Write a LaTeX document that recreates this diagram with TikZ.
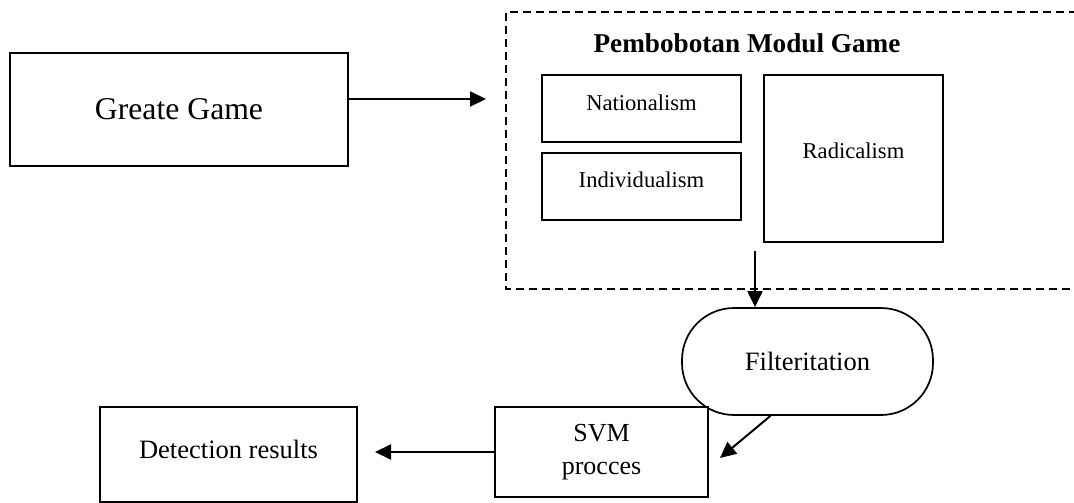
\documentclass[tikz,border=0pt]{standalone}
\usepackage{fontspec}
\setmainfont{Liberation Serif}
\usetikzlibrary{arrows.meta}
\begin{document}
\begin{tikzpicture}[x=1pt,y=-1pt,
  box/.style={draw,line width=1.7pt,inner sep=0pt,align=center},
  arr/.style={line width=2pt,-{Triangle[length=16pt,width=15pt]}},
  dashbox/.style={line width=1.6pt,dash pattern=on 8pt off 5pt}]
\useasboundingbox (0,0) rectangle (1074,503);
% dashed container (extends past right edge)
\draw[dashbox] (1090,12) -- (506,12) -- (506,289) -- (1090,289);
\node[inner sep=0pt,font=\fontsize{27.2}{32}\selectfont\bfseries] (title) at (747,43) {Pembobotan Modul Game};
% boxes
\node[box,minimum width=338pt,minimum height=113pt,font=\fontsize{31.7}{38}\selectfont] (greate) at (179,109.5) {Greate Game};
\node[box,minimum width=199pt,minimum height=67pt,font=\fontsize{22.6}{27}\selectfont,text depth=12pt] (nat) at (641.5,108.5) {Nationalism};
\node[box,minimum width=199pt,minimum height=67pt,font=\fontsize{22.6}{27}\selectfont,text depth=13pt] (ind) at (641.5,186.5) {Individualism};
\node[box,minimum width=179pt,minimum height=167pt,font=\fontsize{22.6}{27}\selectfont,text depth=16pt] (rad) at (853.5,158.5) {Radicalism};
\node[box,minimum width=251pt,minimum height=107pt,rounded corners=52pt,font=\fontsize{26.5}{32}\selectfont] (filt) at (807.5,361.5) {Filteritation};
\node[box,minimum width=213pt,minimum height=90pt,font=\fontsize{26}{33}\selectfont] (svm) at (601.5,452) {SVM\\procces};
\node[box,minimum width=257pt,minimum height=95pt,font=\fontsize{26.5}{32}\selectfont,text depth=10pt] (det) at (228.5,454.5) {Detection results};
% free ends
\coordinate (gtip) at (486,99);
\coordinate (dstart) at (755,251);
\coordinate (svmtip) at (720,458);
\coordinate (dettip) at (375,452);
% connectors
\draw[arr] ([yshift=10.5pt]greate.east) -- (gtip);
\draw[arr] (dstart) -- ([xshift=-52.5pt]filt.north);
\draw[arr] ([xshift=-37pt]filt.south) -- (svmtip);
\draw[arr] (svm.west) -- (dettip);
\end{tikzpicture}
\end{document}
